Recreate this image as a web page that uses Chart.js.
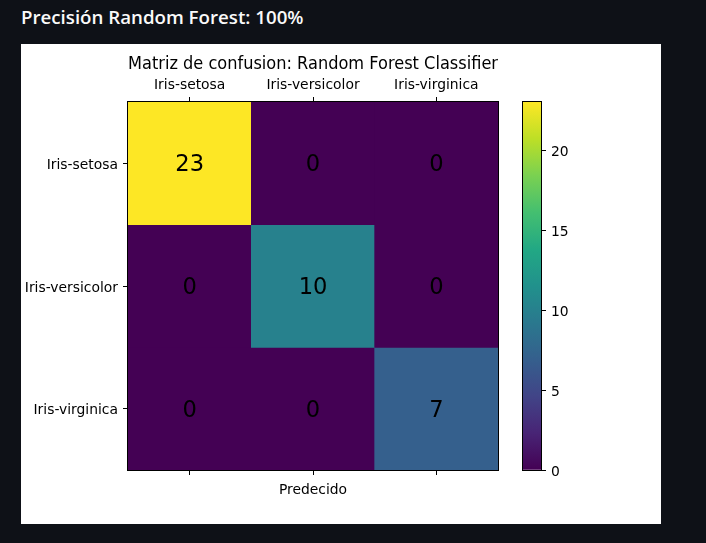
<!DOCTYPE html>
<html><head><meta charset="utf-8">
<script src="https://cdn.jsdelivr.net/npm/chart.js@4"></script>
<style>
html,body{margin:0;padding:0;background:#0e1117;width:706px;height:543px;overflow:hidden;}
#head{position:absolute;left:21px;top:2px;font-family:'Open Sans';font-weight:600;font-size:18.7px;color:#fafafa;line-height:30px;white-space:nowrap}
#panel{position:absolute;left:21px;top:44px;width:640px;height:480px;background:#fff}
#c1{position:absolute;left:0;top:0}
#c2{position:absolute;left:480px;top:0}
</style></head><body>
<div id="head">Precisión Random Forest: 100%</div>
<div id="panel"><canvas id="c1" width="640" height="480"></canvas><canvas id="c2" width="160" height="480"></canvas></div>
<script>
// ---- data ----
const classes = ['Iris-setosa', 'Iris-versicolor', 'Iris-virginica'];
const rowSetosa = [23, 0, 0];
const rowVersicolor = [0, 10, 0];
const rowVirginica = [0, 0, 7];
const matrix = [rowSetosa, rowVersicolor, rowVirginica];
const colorbarTicks = [0, 5, 10, 15, 20];
const colorbarMax = 23;
const chartTitle = 'Matriz de confusion: Random Forest Classifier';
const xTitle = 'Predecido';

// ---- viridis colormap ----
const viridisStops = ['#440154','#482475','#414487','#355f8d','#2a788e','#21918c','#22a884','#44bf70','#7ad151','#bddf26','#fde725'];
function hex2rgb(h){return [parseInt(h.slice(1,3),16),parseInt(h.slice(3,5),16),parseInt(h.slice(5,7),16)];}
function viridis(t){
  t = Math.max(0, Math.min(1, t));
  const p = t * (viridisStops.length - 1);
  const i = Math.min(Math.floor(p), viridisStops.length - 2);
  const f = p - i;
  const a = hex2rgb(viridisStops[i]), b = hex2rgb(viridisStops[i+1]);
  return 'rgb(' + a.map((v,k)=>Math.round(v + (b[k]-v)*f)).join(',') + ')';
}
const vmax = Math.max(...matrix.flat());

const FONT = 'DejaVu Sans';
const tickFont = {family: FONT, size: 13.89};
// y tick labels: empty first line + small line height nudges text ~2px down (matplotlib center_baseline)
const yTickFont = {family: FONT, size: 13.89, lineHeight: '4px'};

const framePlugin = {
  id: 'frame',
  afterDatasetsDraw(chart) {
    const {ctx, chartArea: a} = chart;
    ctx.save();
    ctx.strokeStyle = '#000';
    ctx.lineWidth = 1;
    ctx.strokeRect(Math.round(a.left) - 0.5, Math.round(a.top) - 0.5, Math.round(a.right - a.left) + 1, Math.round(a.bottom - a.top) + 1);
    ctx.restore();
  }
};

const annotatePlugin = {
  id: 'annotate',
  afterDatasetsDraw(chart) {
    const ctx = chart.ctx;
    ctx.save();
    ctx.fillStyle = '#000';
    ctx.font = '22.6px "DejaVu Sans"';
    ctx.textAlign = 'center';
    ctx.textBaseline = 'middle';
    matrix.forEach((row, r) => {
      const meta = chart.getDatasetMeta(r);
      meta.data.forEach((el, c) => {
        const p = el.getCenterPoint();
        ctx.fillText(String(row[c]), p.x, p.y + 2);
      });
    });
    ctx.restore();
  }
};

const tickGrid = {display: true, drawOnChartArea: false, drawTicks: true, tickLength: 5, color: '#000', lineWidth: 1, offset: false};

new Chart(document.getElementById('c1'), {
  type: 'bar',
  data: {
    labels: classes,
    datasets: matrix.map((row, r) => ({
      label: classes[r],
      data: row.map(() => [r, r + 1]),
      backgroundColor: row.map(v => viridis(v / vmax)),
      borderWidth: 0,
      barPercentage: 1,
      categoryPercentage: 1,
      grouped: false
    }))
  },
  options: {
    responsive: false,
    animation: false,
    layout: {padding: {left: 0, right: 163, top: 0, bottom: 0}},
    plugins: {
      legend: {display: false},
      tooltip: {enabled: false},
      title: {
        display: true, text: chartTitle, color: '#000', fullSize: false,
        font: {family: FONT, size: 17.3, weight: 'normal', lineHeight: '20px'},
        padding: {top: 11, bottom: 0}
      }
    },
    scales: {
      x: {
        type: 'category', position: 'top', offset: true,
        grid: tickGrid, border: {display: false},
        ticks: {color: '#000', font: tickFont, padding: 3, maxRotation: 0, autoSkip: false},
        afterFit: s => { s.height = 27; }
      },
      xb: {
        type: 'category', position: 'bottom', axis: 'x', offset: true,
        grid: tickGrid, border: {display: false},
        ticks: {callback: () => '', autoSkip: false},
        title: {display: true, text: xTitle, color: '#000', font: {family: FONT, size: 13.89, lineHeight: '17px'}, padding: {top: 0, bottom: 25}},
        afterFit: s => { s.height = 54; }
      },
      y: {
        type: 'linear', position: 'left', min: 0, max: 3, reverse: true,
        afterBuildTicks: s => { s.ticks = classes.map((_, i) => ({value: i + 0.5})); },
        grid: tickGrid, border: {display: false},
        ticks: {color: '#000', font: yTickFont, padding: 5, callback: (v, i) => ['', classes[i]]},
        afterFit: s => { s.width = 107; }
      }
    }
  },
  plugins: [framePlugin, annotatePlugin]
});

new Chart(document.getElementById('c2'), {
  type: 'bar',
  data: {
    labels: [''],
    datasets: [{
      data: [[0, colorbarMax]],
      backgroundColor: ctx => {
        const a = ctx.chart.chartArea;
        if (!a) return null;
        const g = ctx.chart.ctx.createLinearGradient(0, a.bottom, 0, a.top);
        viridisStops.forEach((c, i) => g.addColorStop(i / (viridisStops.length - 1), c));
        return g;
      },
      borderWidth: 0,
      barPercentage: 1,
      categoryPercentage: 1
    }]
  },
  options: {
    responsive: false,
    animation: false,
    layout: {padding: {left: 22, right: 0, top: 58, bottom: 54}},
    plugins: {legend: {display: false}, tooltip: {enabled: false}},
    scales: {
      x: {display: false},
      y: {
        position: 'right', min: 0, max: colorbarMax,
        afterBuildTicks: s => { s.ticks = colorbarTicks.map(v => ({value: v})); },
        grid: {display: true, drawOnChartArea: false, drawTicks: true, tickLength: 5, color: '#000'},
        border: {display: false},
        ticks: {color: '#000', font: yTickFont, padding: 5, callback: v => ['', String(v)]},
        afterFit: s => { s.width = 120; }
      }
    }
  },
  plugins: [framePlugin]
});
</script>
</body></html>
